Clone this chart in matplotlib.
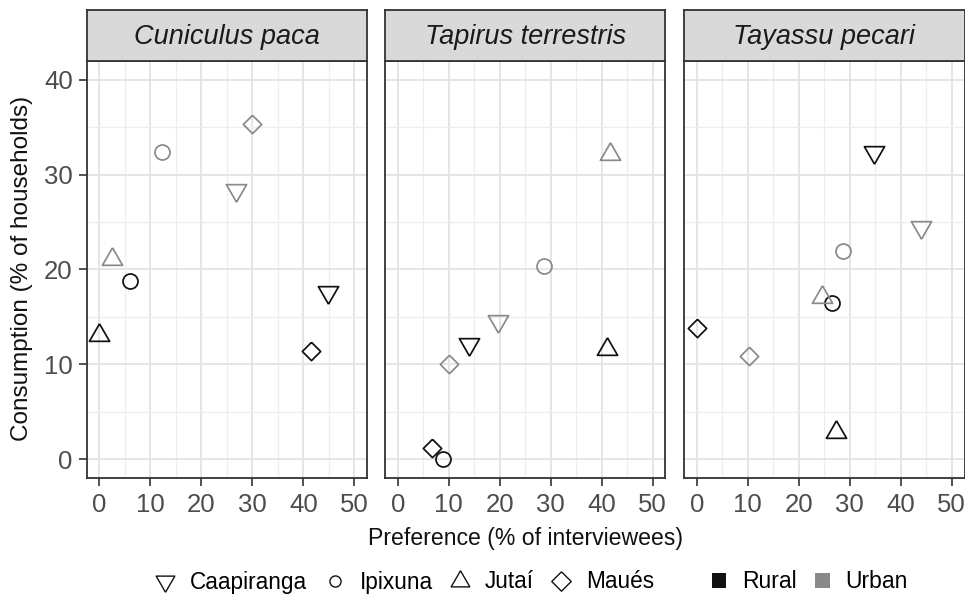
import numpy as np
import matplotlib
matplotlib.use("Agg")
import matplotlib.pyplot as plt
from matplotlib.lines import Line2D
from matplotlib.patches import Patch

plt.rcParams['font.family'] = ['Liberation Sans', 'DejaVu Sans']

# ---- data -------------------------------------------------------------
species = ["Cuniculus paca", "Tapirus terrestris", "Tayassu pecari"]
sites = ["Caapiranga", "Ipixuna", "Jutaí", "Maués"]

# preference (% of interviewees) and consumption (% of households), one value per site
rural_pref = {
    "Cuniculus paca":     [44.8, 5.9, 0.0, 41.4],
    "Tapirus terrestris": [13.9, 8.8, 41.1, 6.8],
    "Tayassu pecari":     [34.7, 26.6, 27.3, 0.0],
}
rural_cons = {
    "Cuniculus paca":     [17.6, 18.8, 13.1, 11.4],
    "Tapirus terrestris": [12.1, 0.0, 11.6, 1.2],
    "Tayassu pecari":     [32.4, 16.5, 2.9, 13.8],
}
urban_pref = {
    "Cuniculus paca":     [26.8, 12.2, 2.5, 30.0],
    "Tapirus terrestris": [19.6, 28.7, 41.6, 10.0],
    "Tayassu pecari":     [44.0, 28.6, 24.6, 10.2],
}
urban_cons = {
    "Cuniculus paca":     [28.4, 32.4, 21.1, 35.4],
    "Tapirus terrestris": [14.6, 20.4, 32.2, 10.0],
    "Tayassu pecari":     [24.5, 22.0, 17.1, 10.9],
}

x_ticks = [0, 10, 20, 30, 40, 50]
y_ticks = [0, 10, 20, 30, 40]

# ---- styling ------------------------------------------------------------
area_colors = {"Rural": "#111111", "Urban": "#8a8a8a"}

h = np.sqrt(3) / 2
tri_up = [(0, 2 * h / 3), (0.5, -h / 3), (-0.5, -h / 3), (0, 2 * h / 3)]
tri_down = [(0, -2 * h / 3), (0.5, h / 3), (-0.5, h / 3), (0, -2 * h / 3)]
diamond = [(0, 1), (1, 0), (0, -1), (-1, 0), (0, 1)]
site_markers = {
    "Caapiranga": (tri_down, 16.8),
    "Ipixuna": ("o", 10.8),
    "Jutaí": (tri_up, 16.8),
    "Maués": (diamond, 13.2),
}

W, H = 965, 602
fig = plt.figure(figsize=(W / 100, H / 100), dpi=100)

lefts = [86.7, 385.0, 684.0]
pw = 280.5
top_px, bot_px, strip_top = 61, 478, 10

border = "#333333"
grid_major = "#e3e3e3"
grid_minor = "#eeeeee"

for i, sp in enumerate(species):
    ax = fig.add_axes([lefts[i] / W, 1 - bot_px / H, pw / W, (bot_px - top_px) / H])
    ax.set_xlim(-2.5, 52.5)
    ax.set_ylim(-2.0, 42.0)
    ax.set_xticks(x_ticks)
    ax.set_yticks(y_ticks)
    ax.set_xticks(np.arange(5, 50, 10), minor=True)
    ax.set_yticks(np.arange(5, 40, 10), minor=True)
    ax.grid(True, which="major", color=grid_major, lw=1.3, zorder=0)
    ax.grid(True, which="minor", color=grid_minor, lw=0.9, zorder=0)
    ax.set_axisbelow(True)
    for s in ax.spines.values():
        s.set_color(border)
        s.set_linewidth(1.3)
    ax.tick_params(which="major", length=5.5, width=1.2, color=border,
                   labelsize=18.5, labelcolor="#4d4d4d")
    ax.tick_params(axis="x", which="major", pad=5.5)
    ax.tick_params(axis="y", which="major", pad=4.5)
    ax.tick_params(which="minor", length=0)
    if i > 0:
        ax.tick_params(axis="y", which="both", left=False, labelleft=False)

    for area, px_d, cy_d in (("Rural", rural_pref, rural_cons),
                             ("Urban", urban_pref, urban_cons)):
        for j, site in enumerate(sites):
            mk, ms = site_markers[site]
            ax.plot(px_d[sp][j], cy_d[sp][j], linestyle="none", marker=mk,
                    markersize=ms, markerfacecolor="none",
                    markeredgecolor=area_colors[area], markeredgewidth=1.25,
                    zorder=3)

    # facet strip
    sax = fig.add_axes([lefts[i] / W, 1 - top_px / H, pw / W, (top_px - strip_top) / H])
    sax.set_facecolor("#d9d9d9")
    sax.set_xticks([])
    sax.set_yticks([])
    for s in sax.spines.values():
        s.set_color(border)
        s.set_linewidth(1.3)
    sax.text(0.5, 0.47, sp, transform=sax.transAxes, ha="center", va="center",
             fontsize=19.5, style="italic", color="#1a1a1a")

fig.text((lefts[0] + lefts[2] + pw) / 2 / W, 1 - 538 / H,
         "Preference (% of interviewees)", ha="center", va="center",
         fontsize=16.6, color="#111111")
fig.text(22 / W, 1 - 268 / H, "Consumption (% of households)", rotation=90,
         ha="center", va="center", fontsize=17.5, color="#111111")

# legends: site shapes and area colours
legend_sizes = {"Caapiranga": 15.5, "Ipixuna": 8.0, "Jutaí": 15.5, "Maués": 14.0}
shape_handles = []
for site in sites:
    mk, _ = site_markers[site]
    shape_handles.append(Line2D([], [], linestyle="none", marker=mk,
                                markersize=legend_sizes[site],
                                markerfacecolor="none", markeredgecolor="#111111",
                                markeredgewidth=1.0, label=site))
leg1 = fig.legend(handles=shape_handles, loc="center", ncol=4,
                  bbox_to_anchor=(404 / W, 1 - 582 / H), frameon=False,
                  fontsize=16.3, handlelength=1.0, handletextpad=0.6,
                  columnspacing=0.7, borderpad=0)

color_handles = [Patch(facecolor=area_colors[a], edgecolor="none", label=a)
                 for a in ("Rural", "Urban")]
leg2 = fig.legend(handles=color_handles, loc="center", ncol=2,
                  bbox_to_anchor=(810 / W, 1 - 582 / H), frameon=False,
                  fontsize=16.5, handlelength=0.62, handleheight=0.62,
                  handletextpad=0.7, columnspacing=0.8, borderpad=0)

fig.savefig("out.png", dpi=100)
